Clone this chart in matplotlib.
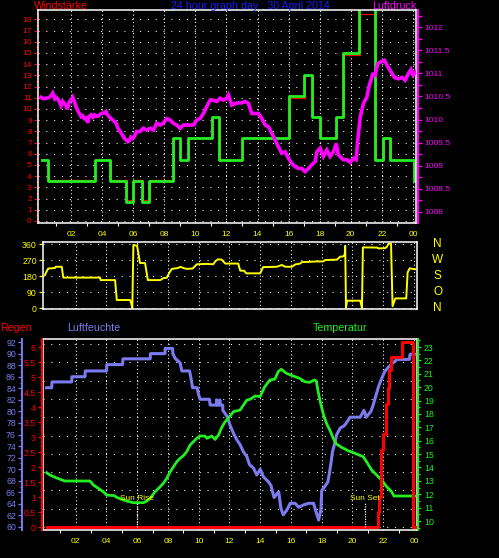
import matplotlib
matplotlib.use("Agg")
import matplotlib.pyplot as plt
from matplotlib.ticker import MultipleLocator, FuncFormatter
import numpy as np

W, H = 499, 558

# ---- data (hours since midnight) ----
hour_ticks = list(range(2, 25, 2))
hour_labels = ["02", "04", "06", "08", "10", "12", "14", "16", "18", "20", "22", "00"]

# wind strength, step changes (steps-post)
gust_h = [0.13, 0.52, 3.54, 4.50, 5.54, 5.99, 6.57, 7.02, 8.56, 9.01, 9.53, 11.08, 11.53,
          13.00, 16.03, 17.00, 17.51, 18.03, 19.06, 19.51, 20.54, 21.57, 22.09, 22.54, 24.08, 24.14]
gust_v = [5.45, 3.6, 5.45, 3.6, 1.65, 3.6, 1.65, 3.6, 7.45, 5.45, 7.45, 9.3, 5.45,
          7.45, 11.15, 13.05, 9.3, 7.45, 9.3, 15.0, 20.0, 5.45, 7.45, 5.45, 3.6, 3.6]
avg_h = [0.13, 0.55, 3.56, 4.56, 5.58, 6.03, 6.61, 7.06, 8.60, 9.06, 9.57, 11.12, 11.60,
         13.04, 16.07, 17.04, 17.55, 18.08, 19.10, 19.55, 20.58, 21.61, 22.13, 22.58, 24.08, 24.14]
avg_v = [5.45, 3.7, 5.45, 3.7, 1.85, 3.7, 1.85, 3.7, 7.45, 5.45, 7.45, 9.3, 5.45,
         7.45, 11.0, 12.9, 9.3, 7.45, 9.3, 14.8, 18.5, 5.45, 7.45, 5.45, 3.6, 3.6]

# air pressure
pressure_h = [0.06, 0.20, 0.39, 0.55, 0.71, 0.82, 0.95, 1.03, 1.15, 1.24, 1.35, 1.46, 1.55, 1.67,
              1.75, 1.89, 2.00, 2.10, 2.21, 2.32, 2.45, 2.53, 2.65, 2.75, 2.85, 2.96, 3.07, 3.15,
              3.28, 3.40, 3.50, 3.60, 3.71, 3.90, 4.04, 4.15, 4.25, 4.35, 4.46, 4.57, 4.68, 4.80,
              4.89, 5.00, 5.10, 5.20, 5.33, 5.45, 5.54, 5.65, 5.75, 5.85, 5.97, 6.08, 6.22, 6.44,
              6.65, 6.87, 7.08, 7.30, 7.51, 7.73, 7.94, 8.16, 8.37, 8.58, 8.80, 9.01, 9.23, 9.45,
              9.66, 9.87, 10.09, 10.30, 10.52, 10.73, 10.95, 11.16, 11.38, 11.59, 11.80, 12.02,
              12.13, 12.34, 12.56, 12.77, 12.99, 13.20, 13.41, 13.63, 13.84, 14.06, 14.28, 14.49,
              14.70, 14.92, 15.13, 15.34, 15.56, 15.78, 15.99, 16.20, 16.42, 16.63, 16.85, 17.06,
              17.28, 17.49, 17.71, 17.82, 18.03, 18.24, 18.46, 18.67, 18.89, 19.06, 19.21, 19.53,
              19.75, 19.96, 20.17, 20.35, 20.43, 20.61, 20.82, 21.04, 21.20, 21.42, 21.57, 21.74,
              21.96, 22.17, 22.39, 22.60, 22.81, 23.07, 23.29, 23.50, 23.72, 23.87, 24.00, 24.19]
pressure_hpa = [1010.48, 1010.45, 1010.46, 1010.47, 1010.51, 1010.57, 1010.45, 1010.48, 1010.44,
                1010.39, 1010.30, 1010.39, 1010.35, 1010.31, 1010.22, 1010.39, 1010.42, 1010.48,
                1010.39, 1010.28, 1010.18, 1010.13, 1010.06, 1010.08, 1010.02, 1010.03, 1009.93,
                1010.06, 1010.10, 1010.05, 1010.10, 1010.07, 1010.07, 1010.12, 1010.14, 1010.14,
                1010.17, 1010.10, 1010.06, 1010.02, 1009.99, 1009.95, 1009.93, 1009.82, 1009.77,
                1009.72, 1009.65, 1009.58, 1009.56, 1009.52, 1009.54, 1009.62, 1009.59, 1009.64,
                1009.74, 1009.74, 1009.81, 1009.77, 1009.81, 1009.77, 1009.92, 1009.88, 1009.92,
                1010.02, 1009.99, 1009.92, 1009.88, 1009.81, 1009.88, 1009.88, 1009.88, 1009.88,
                1009.99, 1010.02, 1010.13, 1010.28, 1010.42, 1010.42, 1010.39, 1010.46, 1010.42,
                1010.46, 1010.53, 1010.31, 1010.35, 1010.36, 1010.36, 1010.39, 1010.35, 1010.13,
                1010.13, 1010.13, 1010.02, 1009.88, 1009.84, 1009.70, 1009.56, 1009.41, 1009.27,
                1009.30, 1009.16, 1009.05, 1008.98, 1008.94, 1008.94, 1008.87, 1008.94, 1009.02,
                1009.09, 1009.30, 1009.38, 1009.20, 1009.34, 1009.20, 1009.30, 1009.48, 1009.23,
                1009.13, 1009.13, 1009.07, 1009.16, 1009.13, 1009.48, 1010.06, 1010.35, 1010.49,
                1010.75, 1010.98, 1010.96, 1011.21, 1011.25, 1011.28, 1011.14, 1011.03, 1010.91,
                1010.88, 1010.91, 1010.85, 1011.00, 1011.08, 1010.96, 1011.03]

# wind direction (degrees)
dir_h = [0.00, 0.10, 0.21, 0.65, 0.70, 1.09, 1.19, 3.58, 3.62, 4.56, 4.67, 5.53, 5.60, 5.68,
         5.75, 5.99, 6.18, 6.51, 6.69, 7.49, 7.70, 7.92, 8.10, 8.25, 8.66, 8.80, 9.00, 9.22,
         9.60, 9.75, 9.88, 10.50, 10.94, 11.10, 11.26, 11.50, 11.72, 12.57, 12.70, 12.95, 13.09,
         14.00, 14.19, 15.08, 15.41, 15.63, 16.06, 16.28, 16.60, 16.71, 17.69, 18.10, 18.23,
         18.99, 19.21, 19.40, 19.50, 19.53, 19.58, 19.65, 20.51, 20.62, 20.68, 21.60, 21.70,
         22.14, 22.25, 22.35, 22.51, 22.61, 22.79, 23.50, 23.59, 23.72, 24.09]
dir_deg = [186, 205, 222, 225, 232, 232, 171, 171, 157, 157, 45, 45, 30, 0,
           355, 350, 253, 253, 157, 157, 168, 170, 200, 220, 225, 232, 225, 220,
           222, 235, 246, 248, 246, 265, 274, 272, 250, 250, 210, 210, 195,
           195, 230, 232, 242, 232, 232, 245, 250, 258, 262, 262, 270,
           272, 289, 290, 300, 350, 0, 41, 41, 0, 341, 340, 335,
           337, 345, 362, 362, 10, 54, 54, 200, 223, 218]
compass_labels = ["N", "W", "S", "O", "N"]
compass_deg = [360, 270, 180, 90, 0]

# humidity (%)
hum_h = [0.10, 0.44, 0.45, 1.74, 1.75, 2.60, 2.62, 4.00, 4.02, 5.05, 5.07, 6.84, 6.86, 7.80,
         7.82, 8.30, 8.32, 8.46, 8.79, 8.90, 9.40, 9.48, 9.60, 9.90, 9.98, 10.09, 10.70, 10.74,
         11.15, 11.17, 11.20, 11.35, 11.37, 11.40, 11.56, 11.57, 11.83, 11.93, 12.04, 12.26,
         12.48, 12.70, 12.91, 13.13, 13.30, 13.56, 13.78, 14.00, 14.21, 14.54, 14.70, 14.90,
         15.20, 15.35, 15.50, 15.73, 15.95, 16.28, 16.50, 16.80, 17.15, 17.47, 17.58, 17.80,
         17.95, 18.00, 18.20, 18.40, 18.50, 18.60, 18.70, 18.85, 18.96, 19.20, 19.50, 19.85,
         20.50, 20.75, 20.90, 21.20, 21.35, 21.50, 21.70, 21.90, 22.10, 22.35, 22.60, 22.90,
         23.70, 23.75, 24.05]
hum_pct = [84.1, 84.1, 85.1, 85.1, 86.0, 86.0, 87.0, 87.0, 88.1, 88.1, 89.1, 89.1, 90.0, 90.0,
           90.9, 90.9, 90.0, 89.2, 88.4, 87.0, 87.0, 86.0, 84.1, 84.1, 83.0, 82.1, 82.1, 81.1,
           81.1, 82.0, 81.1, 81.1, 82.0, 81.1, 81.1, 80.2, 79.2, 78.5, 77.6, 76.2,
           75.1, 74.2, 73.0, 72.2, 70.8, 70.2, 69.0, 70.0, 68.7, 67.8, 67.2, 65.1,
           66.1, 63.2, 62.1, 62.9, 64.1, 64.1, 63.4, 63.8, 64.1, 64.1, 63.1, 61.2,
           63.0, 66.3, 67.0, 67.8, 69.3, 71.0, 73.0, 74.5, 75.9, 77.1, 77.6, 79.0,
           79.0, 80.2, 79.0, 80.0, 81.1, 82.5, 84.3, 85.7, 86.9, 87.7, 88.3, 89.0,
           89.0, 89.9, 89.9]

# temperature (deg C)
temp_h = [0.11, 0.33, 0.65, 0.98, 1.30, 2.93, 3.15, 3.47, 3.80, 4.01, 4.50, 4.67, 4.99, 5.32,
          5.75, 6.40, 6.62, 6.84, 7.16, 7.49, 7.70, 7.92, 8.14, 8.36, 8.57, 8.79, 9.00, 9.22,
          9.44, 9.66, 9.87, 10.09, 10.40, 10.53, 10.85, 11.07, 11.29, 11.50, 11.72, 11.83,
          12.26, 12.70, 13.13, 13.35, 13.67, 13.99, 14.30, 14.63, 14.95, 15.17, 15.37, 15.70,
          16.13, 16.57, 16.90, 17.20, 17.55, 17.65, 17.77, 17.93, 18.15, 18.36, 18.53, 18.75,
          18.96, 19.29, 19.73, 20.16, 20.70, 20.92, 21.25, 21.57, 21.90, 22.23, 22.55, 22.70,
          24.07]
temp_c = [13.61, 13.44, 13.27, 13.12, 12.99, 12.99, 12.69, 12.44, 12.19, 11.94, 11.90, 11.77,
          11.62, 11.49, 11.37, 11.37, 11.49, 11.70, 12.19, 12.56, 12.82, 13.19, 13.68, 14.06,
          14.43, 14.69, 14.88, 15.18, 15.68, 15.93, 16.18, 16.35, 16.35, 16.18, 16.35, 16.10,
          16.43, 17.00, 17.42, 17.55, 18.17, 18.30, 19.04, 19.10, 19.34, 19.30, 20.04, 20.54,
          20.60, 21.16, 21.34, 21.04, 20.84, 20.66, 20.41, 20.36, 20.54, 20.45, 19.66, 18.80,
          17.80, 17.17, 16.80, 16.18, 15.75, 15.51, 15.25, 15.06, 14.81, 14.43, 13.81, 13.44,
          13.06, 12.56, 12.19, 11.87, 11.87]

# rain (mm), step changes (steps-post)
rain_h = [0.10, 21.66, 21.70, 21.87, 22.02, 22.18, 22.30, 22.40, 22.50, 23.22, 23.94, 24.10]
rain_mm = [0.0, 0.51, 1.01, 2.57, 3.10, 4.10, 4.62, 5.23, 5.68, 6.18, 0.0, 0.0]

sun_rise_h = 6.01
sun_set_h = 20.83

# ---- style ----
YELLOW = "#ffff00"
RED = "#ff0000"
GREEN = "#22ee22"
MAGENTA = "#ff00ff"
BLUE = "#7b7bef"
TITLE_BLUE = "#1a1aff"
NARROW = ["Liberation Sans Narrow", "Liberation Sans", "DejaVu Sans"]

plt.rcParams["font.family"] = ["Liberation Sans", "DejaVu Sans"]
DOTS_V = (0, (1, 2.5))
DOTS_H = (0, (1, 6.5))


def px_axes(fig, x0, y0, x1, y1):
    """Axes placed by pixel box (left, top, right, bottom)."""
    return fig.add_axes([x0 / W, 1 - y1 / H, (x1 - x0) / W, (y1 - y0) / H])


def setup_hours(ax, labels=True):
    ax.set_xlim(-0.13, 24.2)
    ax.set_xticks(hour_ticks)
    ax.set_xticks(range(1, 25, 2), minor=True)
    if labels:
        ax.set_xticklabels(hour_labels)
    else:
        ax.set_xticklabels([])
    ax.tick_params(axis="x", which="major", length=0, pad=6.0,
                   labelcolor=YELLOW, labelsize=6)
    ax.tick_params(axis="x", which="minor", length=2.5, width=0.8, color="white")
    ax.xaxis.grid(True, which="major", color="white", linestyle=DOTS_V, linewidth=0.75)
    ax.yaxis.grid(True, which="major", color="white", linestyle=DOTS_H, linewidth=0.75)
    ax.set_axisbelow(True)
    ax.set_facecolor("black")
    for s in ax.spines.values():
        s.set_color("white")
        s.set_linewidth(1.1)


def only_spine(ax, side, color, outward):
    for name, s in ax.spines.items():
        s.set_visible(name == side)
    ax.spines[side].set_color(color)
    ax.spines[side].set_linewidth(1.4)
    ax.spines[side].set_position(("outward", outward))


fig = plt.figure(figsize=(W / 100, H / 100), dpi=100, facecolor="black")

# ---- top panel: wind strength + pressure ----
ax_w = px_axes(fig, 38, 10, 416, 223)
setup_hours(ax_w)
ax_w.set_ylim(-0.18, 18.83)
ax_w.yaxis.set_major_locator(MultipleLocator(1))
ax_w.yaxis.set_minor_locator(MultipleLocator(0.5))
ax_w.tick_params(axis="y", which="both", colors=RED, labelsize=6, pad=1.5,
                 labelfontfamily=NARROW)
ax_w.tick_params(axis="y", which="major", length=3, width=0.9)
ax_w.tick_params(axis="y", which="minor", length=1.5, width=0.9)
ax_w.plot(avg_h, avg_v, drawstyle="steps-post", color=RED, lw=0.9)
ax_w.plot(gust_h, gust_v, drawstyle="steps-post", color=GREEN, lw=2.0)

ax_p = ax_w.twinx()
ax_p.set_ylim(1007.76, 1012.37)
ax_p.yaxis.set_major_locator(MultipleLocator(0.5))
ax_p.yaxis.set_minor_locator(MultipleLocator(0.25))
ax_p.yaxis.set_major_formatter(FuncFormatter(lambda v, _: f"{v:g}"))
ax_p.tick_params(axis="y", which="both", colors=MAGENTA, labelsize=6, pad=2,
                 labelfontfamily=NARROW)
ax_p.tick_params(axis="y", which="major", length=3, width=0.9)
ax_p.tick_params(axis="y", which="minor", length=3, width=0.9)
only_spine(ax_p, "right", MAGENTA, 1.2)
ax_p.plot(pressure_h, pressure_hpa, color=MAGENTA, lw=2.6, solid_joinstyle="miter")

fig.text(34 / W, 1 - 8.8 / H, "Windstärke", color=RED, fontsize=7.7, va="baseline")
fig.text(250 / W, 1 - 8.8 / H, "24 hour graph day : 30 April 2014", color=TITLE_BLUE,
         fontsize=7.7, va="baseline", ha="center")
fig.text(416 / W, 1 - 8.8 / H, "Luftdruck", color=MAGENTA, fontsize=7.7, va="baseline",
         ha="right")

# ---- middle panel: wind direction ----
ax_d = px_axes(fig, 43, 242, 417, 309)
setup_hours(ax_d, labels=False)
ax_d.tick_params(axis="x", which="minor", length=0)
ax_d.set_ylim(-5.6, 371.3)
ax_d.set_yticks([0, 90, 180, 270, 360])
ax_d.tick_params(axis="y", colors=YELLOW, labelsize=6.3, length=3, width=0.9, pad=1.5)
ax_d.plot(dir_h, dir_deg, color=YELLOW, lw=1.4)
for lab, deg in zip(compass_labels, compass_deg):
    ax_d.text(1.055, (deg + 5.6) / 376.9, lab, transform=ax_d.transAxes, color=YELLOW,
              fontsize=8.5, ha="center", va="center")

# ---- bottom panel: humidity, temperature, rain ----
ax_b = px_axes(fig, 43, 339, 417, 530)
setup_hours(ax_b)
ax_b.set_ylim(-0.1, 6.267)
ax_b.set_yticks(np.linspace(0, 6.1, 11))
ax_b.tick_params(axis="y", left=False, labelleft=False)

ax_h = ax_b.twinx()
ax_h.set_ylim(59.48, 92.53)
ax_h.yaxis.tick_left()
ax_h.yaxis.set_major_locator(MultipleLocator(2))
ax_h.yaxis.set_minor_locator(MultipleLocator(1))
ax_h.tick_params(axis="y", which="both", colors=BLUE, labelsize=6.3, pad=1.5)
ax_h.tick_params(axis="y", which="major", length=3, width=0.9)
ax_h.tick_params(axis="y", which="minor", length=1.5, width=0.9)
only_spine(ax_h, "left", BLUE, 15.0)
ax_h.plot(hum_h, hum_pct, color=BLUE, lw=2.2)

ax_t = ax_b.twinx()
ax_t.set_ylim(9.33, 23.6)
ax_t.yaxis.set_major_locator(MultipleLocator(1))
ax_t.yaxis.set_minor_locator(MultipleLocator(0.5))
ax_t.tick_params(axis="y", which="both", colors=GREEN, labelsize=6.3, pad=1.5,
                 labelfontfamily=NARROW)
ax_t.tick_params(axis="y", which="major", length=2.5, width=0.9)
ax_t.tick_params(axis="y", which="minor", length=1.5, width=0.9)
only_spine(ax_t, "right", GREEN, 1.0)
ax_t.plot(temp_h, temp_c, color=GREEN, lw=2.0)

ax_r = ax_b.twinx()
ax_r.set_ylim(-0.1, 6.267)
ax_r.yaxis.tick_left()
ax_r.yaxis.set_major_locator(MultipleLocator(0.5))
ax_r.yaxis.set_minor_locator(MultipleLocator(0.25))
ax_r.yaxis.set_major_formatter(FuncFormatter(lambda v, _: f"{v:g}"))
ax_r.tick_params(axis="y", which="both", colors=RED, labelsize=6.3, pad=1.5,
                 labelfontfamily=NARROW)
ax_r.tick_params(axis="y", which="major", length=3, width=0.9)
ax_r.tick_params(axis="y", which="minor", length=1.5, width=0.9)
only_spine(ax_r, "left", RED, 0.6)
ax_r.plot(rain_h, rain_mm, drawstyle="steps-post", color=RED, lw=2.2)

for t, name in [(sun_rise_h, "Sun Rise"), (sun_set_h, "Sun Set")]:
    ax_r.vlines(t, 0, 0.8, colors="white", linestyles=(0, (1, 1)), lw=0.9)
    ax_r.text(t, 0.85, name, color=YELLOW, fontsize=6, ha="center", va="bottom")

fig.text(0 / W, 1 - 330.7 / H, "Regen", color=RED, fontsize=7.7, va="baseline")
fig.text(67 / W, 1 - 330.7 / H, "Luftfeuchte", color=BLUE, fontsize=7.7, va="baseline")
fig.text(313 / W, 1 - 330.7 / H, "Temperatur", color=GREEN, fontsize=7.7, va="baseline")

fig.savefig("out.png", dpi=100, facecolor="black")
